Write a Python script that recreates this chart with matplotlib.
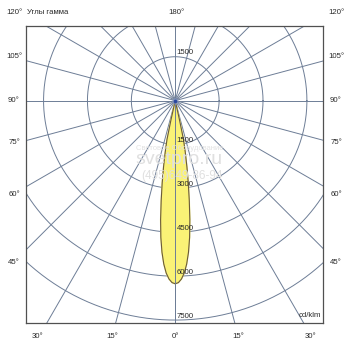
import numpy as np
import matplotlib
matplotlib.use('Agg')
import matplotlib.pyplot as plt

# ---- data ----
gamma_deg = [0, 1, 2, 3, 4, 5, 6, 7, 8, 9, 10, 11, 12, 12.5, 13]
intensity = [6260, 6220, 6100, 5900, 5600, 5200, 4700, 4100, 3450, 2850, 2300, 1800, 1350, 650, 0]
ring_values = [1500, 3000, 4500, 6000, 7500]
ring_labels_down = [1500, 3000, 4500, 6000, 7500]
ring_labels_up = [1500]
spoke_angles = list(range(0, 360, 15))
side_labels = ['120°', '105°', '90°', '75°', '60°', '45°']
side_label_y = [13, 57, 100, 143, 194, 262]
bottom_labels = ['30°', '15°', '0°', '15°', '30°']
bottom_label_x = [38, 112, 175, 238, 311]

W = H = 350
fig = plt.figure(figsize=(3.5, 3.5), dpi=100)
fig.patch.set_facecolor('white')

ax = fig.add_axes([26 / W, 27 / H, 297 / W, 297 / H])
ax.set_xlim(-5100, 5050)
ax.set_ylim(-7600, 2550)
ax.set_xticks([])
ax.set_yticks([])
for s in ax.spines.values():
    s.set_color('#505050')
    s.set_linewidth(0.9)

grid_c = '#6d7d96'
t = np.linspace(0, 2 * np.pi, 721)
for r in ring_values:
    ax.plot(r * np.cos(t), r * np.sin(t), color=grid_c, lw=0.7, zorder=1)
R = 14000
for a in spoke_angles:
    ar = np.radians(a)
    ax.plot([0, R * np.sin(ar)], [0, -R * np.cos(ar)], color=grid_c, lw=0.7, zorder=1)

# luminous intensity curve (symmetric C0-C180 plane)
g = np.radians(np.array(gamma_deg))
I = np.array(intensity, dtype=float)
ang = np.concatenate([-g[::-1], g[1:]])
ii = np.concatenate([I[::-1], I[1:]])
xs = ii * np.sin(ang)
ys = -ii * np.cos(ang)
ax.fill(xs, ys, color='#faf276', zorder=2)
ax.plot(xs, ys, color='#6a5a3c', lw=0.8, zorder=3)
ax.plot([0, 0], [0, -R], color=grid_c, lw=0.7, zorder=3)

# center glow
ax.scatter([0], [0], s=22, color='#8fa3d8', alpha=0.5, zorder=4, linewidths=0)
ax.scatter([0], [0], s=7, color='#2a48a0', zorder=5, linewidths=0)

fs = 5.6
fam = ['Liberation Sans', 'DejaVu Sans']
tc = '#2a2a2a'
for v in ring_labels_down:
    ax.text(40, -v + 125, str(v), ha='left', va='center', fontsize=fs, family=fam, color=tc, zorder=6)
for v in ring_labels_up:
    ax.text(40, v + 130, str(v), ha='left', va='center', fontsize=fs, family=fam, color=tc, zorder=6)

# watermark
ax.text(170, -1620, 'Световое Оборудование', ha='center', va='center', fontsize=5.5,
        family=fam, color='#e2e2e2', zorder=6)
ax.text(140, -2020, 'svetpro.ru', ha='center', va='center', fontsize=14,
        family=fam, color='#e0e0e0', zorder=6)
ax.text(230, -2560, '(495)649-86-94', ha='center', va='center', fontsize=8.5,
        family=fam, color='#e0e0e0', zorder=6)
ax.text(5000, -7450, 'cd/klm', ha='right', va='bottom', fontsize=fs, family=fam, color=tc, zorder=6)

def ftext(x, y, s, ha='center'):
    fig.text(x / W, 1 - y / H, s, ha=ha, va='center', fontsize=fs, family=fam, color=tc)

for lab, y in zip(side_labels, side_label_y):
    ftext(14, y, lab)
    ftext(336, y, lab)
ftext(27, 13, 'Углы гамма', ha='left')
ftext(176, 13, '180°')
for lab, x in zip(bottom_labels, bottom_label_x):
    ftext(x, 337, lab)

fig.savefig('out.png', dpi=100, facecolor='white')
